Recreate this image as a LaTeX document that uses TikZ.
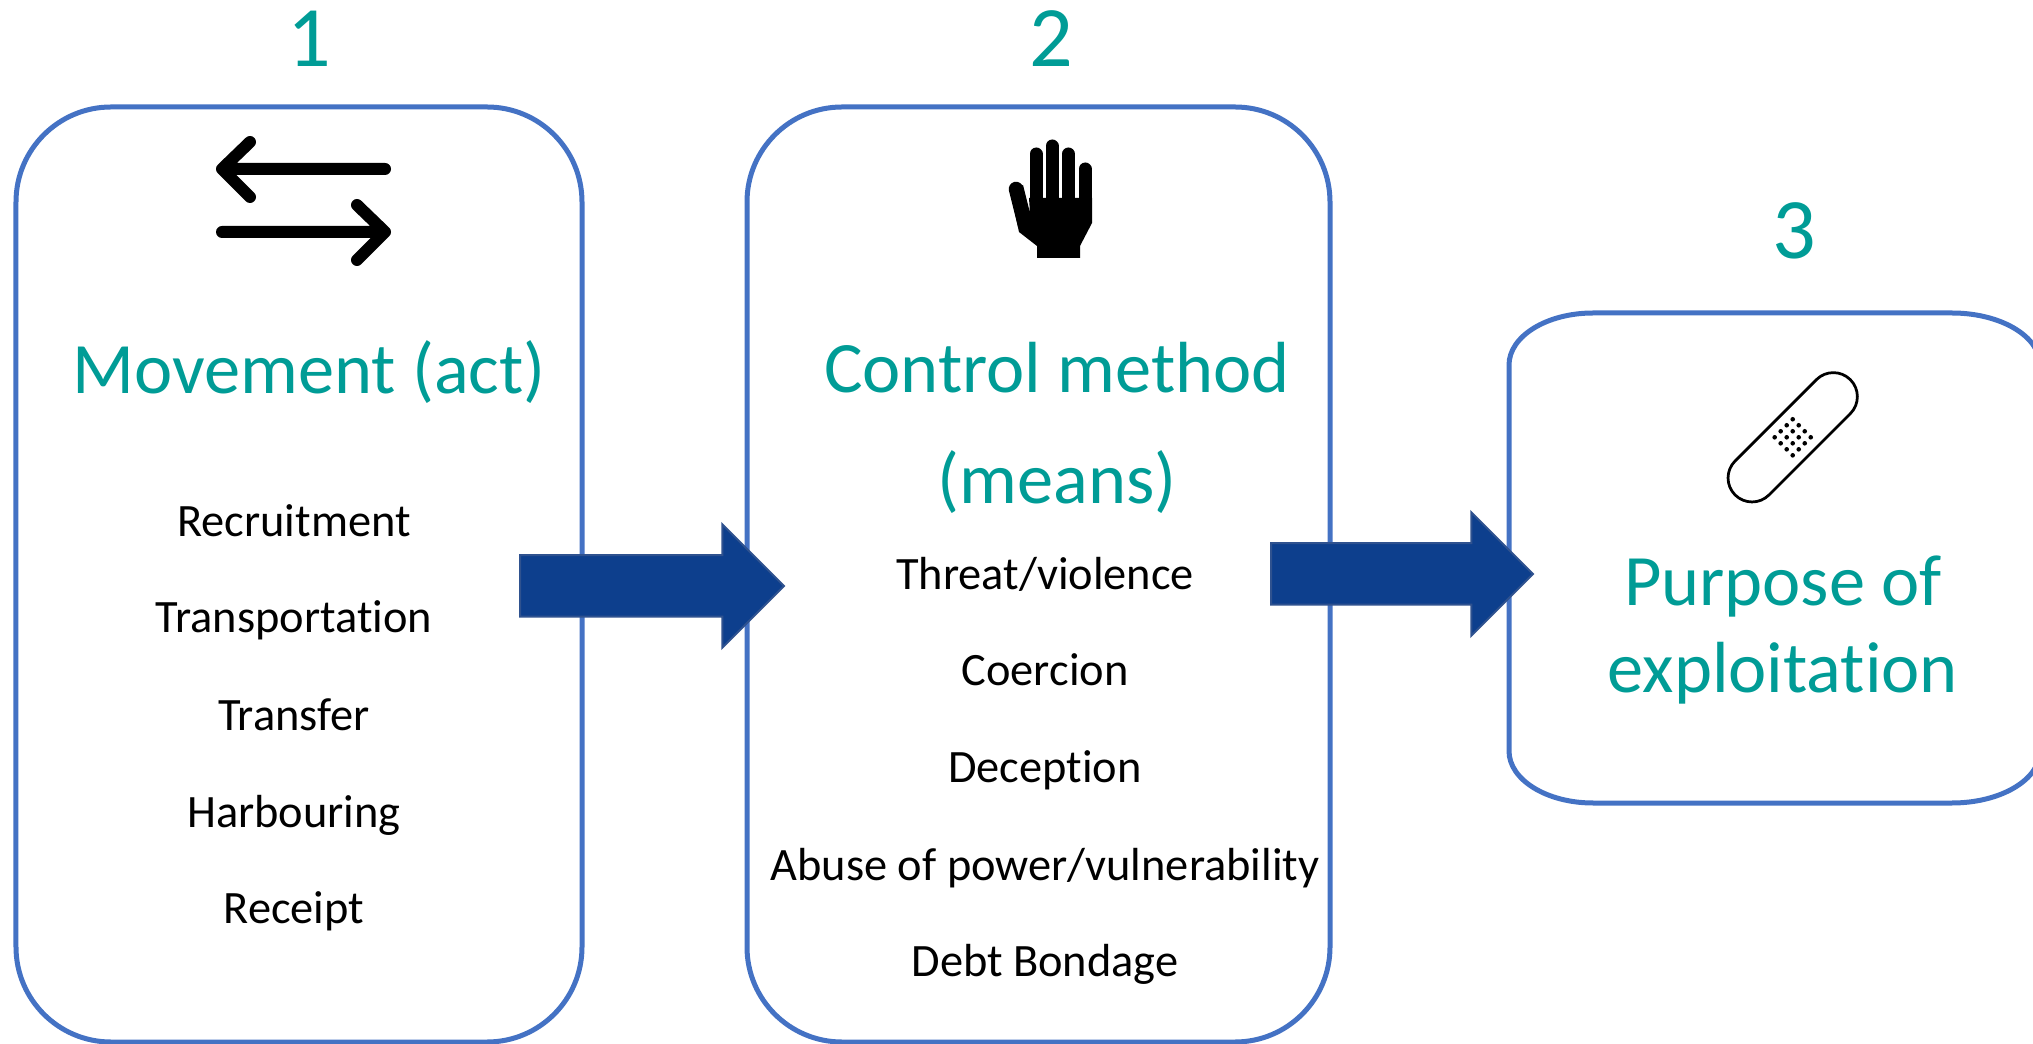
\documentclass[tikz,border=0pt]{standalone}
\usepackage{fontspec}
\setmainfont{Carlito}[Ligatures=NoCommon]
\usetikzlibrary{shapes.arrows, positioning, calc}
\definecolor{boxblue}{RGB}{68, 114, 196}
\definecolor{titleteal}{RGB}{0, 156, 150}
\definecolor{arrowblue}{RGB}{13, 63, 141}
\definecolor{arrowedge}{RGB}{47, 82, 143}

\begin{document}
\begin{tikzpicture}[
    x=0.2mm, y=-0.2mm,
    stagebox/.style={rectangle, rounded corners=19mm, draw=boxblue, line width=1mm, fill=white, inner sep=0pt},
    stageline/.style={draw=boxblue, line width=1mm, fill=white},
    number/.style={text=titleteal, font=\fontsize{49}{58}\selectfont},
    title/.style={text=titleteal, align=center, inner sep=0pt, font=\fontsize{41.2}{63}\selectfont},
    item/.style={text=black, text height=22.6pt, text depth=6pt, font=\fontsize{26.4}{31}\selectfont},
    flow/.style={single arrow, single arrow head extend=6.2mm, single arrow head indent=0pt, inner sep=5.95mm, draw=arrowedge, line width=0.4mm, fill=arrowblue, anchor=tail},
    icon/.style={line width=2.4mm, line cap=round, line join=round},
    finger/.style={line width=2.6mm, line cap=round}
]
    \useasboundingbox (0,0) rectangle (2033,1044);
    \clip (0,0) rectangle (2033,1044);

    % Stages
    \node[stagebox, minimum width=113.2mm, minimum height=187mm] (act) at (299,574.5) {};
    \node[stagebox, minimum width=116.6mm, minimum height=187mm] (means) at (1038.5,574.5) {};
    \draw[stageline] (1593,313) -- (1952,313) arc[start angle=-90, end angle=0, x radius=88, y radius=52]
        -- (2040,751) arc[start angle=0, end angle=90, x radius=88, y radius=52]
        -- (1593,803) arc[start angle=90, end angle=180, x radius=84, y radius=52]
        -- (1509,365) arc[start angle=180, end angle=270, x radius=84, y radius=52] -- cycle;

    % Numbers
    \node[number] (num1) at (309,39) {1};
    \node[number] (num2) at (1051,39) {2};
    \node[number] (num3) at (1794,231) {3};

    % Titles
    \node[title] (actname) at (309,372) {Movement (act)};
    \node[title] (meansname) at (1057,428) {Control method\\(means)};
    \node[title, font=\fontsize{41.2}{50}\selectfont] (purposename) at (1783,630) {Purpose of\\exploitation};

    % Movement list
    \node[item] (i1) at (294,522) {Recruitment};
    \node[item] (i2) at (294,618) {Transportation};
    \node[item] (i3) at (294,716) {Transfer};
    \node[item] (i4) at (294,813) {Harbouring};
    \node[item] (i5) at (294,909) {Receipt};

    % Control list
    \node[item] (m1) at (1045,575) {Threat/violence};
    \node[item] (m2) at (1045,671) {Coercion};
    \node[item] (m3) at (1045,768) {Deception};
    \node[item] (m4) at (1045,866) {Abuse of power/vulnerability};
    \node[item] (m5) at (1045,962) {Debt Bondage};

    % Block arrows
    \node[flow, minimum height=52.8mm] (flow1) at (519,586) {};
    \node[flow, minimum height=52.4mm] (flow2) at (1270,574) {};

    % Two-way arrows icon
    \draw[icon] (385,169) -- (222,169) (250,142) -- (222,169) -- (250,197);
    \draw[icon] (222,232) -- (385,232) (357,205) -- (385,232) -- (357,260);

    % Hand icon
    \fill (1029,198) -- (1092,198) -- (1092,223) -- (1080,246) -- (1080,258) -- (1037,258) -- (1037,246)
        -- (1019,232) -- (1010,190) -- (1023,185) -- (1030,213) -- cycle;
    \draw[line width=2.9mm, line cap=round] (1016,189) -- (1025,225);
    \draw[finger] (1036,154) -- (1036,205);
    \draw[finger] (1052,146) -- (1052,205);
    \draw[finger] (1068.3,154) -- (1068.3,205);
    \draw[finger] (1085,169) -- (1085,205);

    % Plaster icon
    \begin{scope}[shift={(1792.7,437.3)}, rotate=45]
        \draw[line width=0.55mm, rounded corners=4.8mm] (-81.5,-24) rectangle (81.5,24);
        \foreach \i in {-12.75,-4.25,4.25,12.75}
            \foreach \j in {-12.75,-4.25,4.25,12.75}
                \fill (\i,\j) circle (0.46mm);
    \end{scope}
\end{tikzpicture}
\end{document}
